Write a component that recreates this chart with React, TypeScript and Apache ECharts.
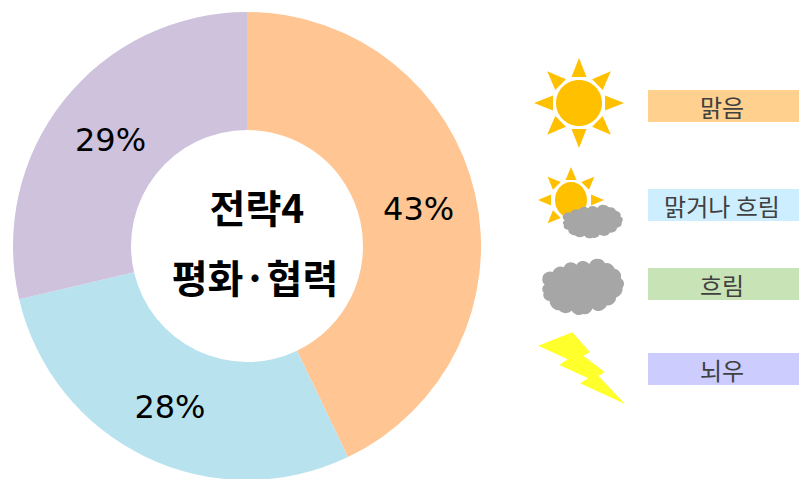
import React, { useEffect, useRef } from "react";
import * as echarts from "echarts";

const sliceValues = [42.9, 28.45, 28.65];
const sliceColors = ["#FFC592", "#B8E2EE", "#CEC2DD"];
const centerLines = ["전략4", "평화·협력"];
const legendLabels = ["맑음", "맑거나 흐림", "흐림", "뇌우"];
const legendColors = ["#FFD08E", "#CCEEFF", "#C8E3B6", "#CCCCFF"];
const legendTops = [90, 189, 268, 353];
const rayAngles = [0, 45, 90, 135, 180, 225, 270, 315];

const FONT = '"Noto Sans CJK KR", "Noto Sans", sans-serif';
const CLOUD_D =
  "M65 125 A24 24 0 0 1 90 85 A26 26 0 0 1 125 70 A24 24 0 0 1 165 62 A24 24 0 0 1 205 60 A28 28 0 0 1 255 57 " +
  "A26 26 0 0 1 285 75 A24 24 0 0 1 305 105 A20 20 0 0 1 310 135 A28 28 0 0 1 290 165 A26 26 0 0 1 260 190 " +
  "A28 28 0 0 1 215 200 A24 24 0 0 1 185 217 A26 26 0 0 1 150 207 A28 28 0 0 1 110 205 A30 30 0 0 1 80 175 " +
  "A18 18 0 0 1 62 150 A16 16 0 0 1 65 125 Z";

echarts.graphic.registerShape("cloudIcon", (echarts.graphic as any).extendPath(CLOUD_D, {}));

function sun(cx: number, cy: number, r: number, ry: number, baseR: number, tipR: number, half: number) {
  const rays = rayAngles.map((deg) => {
    const a = (deg * Math.PI) / 180;
    const ux = Math.cos(a);
    const uy = Math.sin(a);
    return {
      type: "polygon",
      silent: true,
      shape: {
        points: [
          [cx + ux * tipR, cy + uy * tipR],
          [cx + ux * baseR - uy * half, cy + uy * baseR + ux * half],
          [cx + ux * baseR + uy * half, cy + uy * baseR - ux * half],
        ],
      },
      style: { fill: "#FFC000" },
    };
  });
  return [...rays, { type: "ellipse", silent: true, shape: { cx, cy, rx: r, ry }, style: { fill: "#FFC000" } }];
}

function cloud(x: number, y: number, sx: number, sy: number) {
  return { type: "cloudIcon", silent: true, x, y, scaleX: sx, scaleY: sy, style: { fill: "#A6A6A6" } };
}

export default function App() {
  const ref = useRef<HTMLDivElement>(null);
  useEffect(() => {
    const chart = echarts.init(ref.current!, null, { renderer: "svg" });
    const legendItems: any[] = [];
    legendLabels.forEach((label, i) => {
      legendItems.push({
        type: "rect",
        silent: true,
        shape: { x: 648, y: legendTops[i], width: 151, height: 32 },
        style: { fill: legendColors[i] },
      });
      legendItems.push({
        type: "text",
        silent: true,
        x: 722,
        y: legendTops[i] + 16,
        style: { text: label, font: `400 24px ${FONT}`, fill: "#404040", align: "center", verticalAlign: "middle" },
      });
    });
    const labelShift = [
      { dx: -2, dy: 2 },
      { dx: 0, dy: 1 },
      { dx: 3, dy: 5 },
    ];
    chart.setOption({
      animation: false,
      backgroundColor: "#fff",
      series: [
        {
          type: "pie",
          center: [247, 246],
          radius: [116, 234],
          startAngle: 90,
          clockwise: true,
          silent: true,
          itemStyle: { borderWidth: 0 },
          label: {
            show: true,
            position: "inside",
            formatter: (p: any) => `${Math.round(p.value)}%`,
            fontFamily: '"DejaVu Sans", sans-serif',
            fontSize: 32,
            color: "#000",
          },
          labelLayout: (p: any) => labelShift[p.dataIndex],
          labelLine: { show: false },
          data: sliceValues.map((value, i) => ({ value, itemStyle: { color: sliceColors[i] } })),
        },
      ],
      graphic: [
        {
          type: "text",
          silent: true,
          x: 257,
          y: 206,
          style: { text: centerLines[0], font: `700 39px ${FONT}`, fill: "#000", align: "center", verticalAlign: "middle" },
        },
        {
          type: "text",
          silent: true,
          x: 255,
          y: 276,
          style: { text: centerLines[1], font: `700 39px ${FONT}`, fill: "#000", align: "center", verticalAlign: "middle" },
        },
        ...sun(579, 103, 23, 23, 26, 45, 7.5),
        ...sun(571, 200, 16, 18, 20, 33, 5.5),
        cloud(549.5, 196.5, 0.2333, 0.19),
        cloud(524, 245, 0.318, 0.318),
        {
          type: "polygon",
          silent: true,
          shape: {
            points: [
              [538.3, 345.7],
              [572.3, 332.3],
              [590, 352.3],
              [583.3, 355.7],
              [605, 372.3],
              [598.3, 375.7],
              [625, 404],
              [580, 383.3],
              [588.3, 378.3],
              [559.3, 365],
              [567.7, 359.3],
            ],
          },
          style: { fill: "#FFFF2B" },
        },
        ...legendItems,
      ],
    });
    return () => chart.dispose();
  }, []);
  return <div ref={ref} style={{ position: "absolute", left: 0, top: 0, width: 799, height: 479 }} />;
}
